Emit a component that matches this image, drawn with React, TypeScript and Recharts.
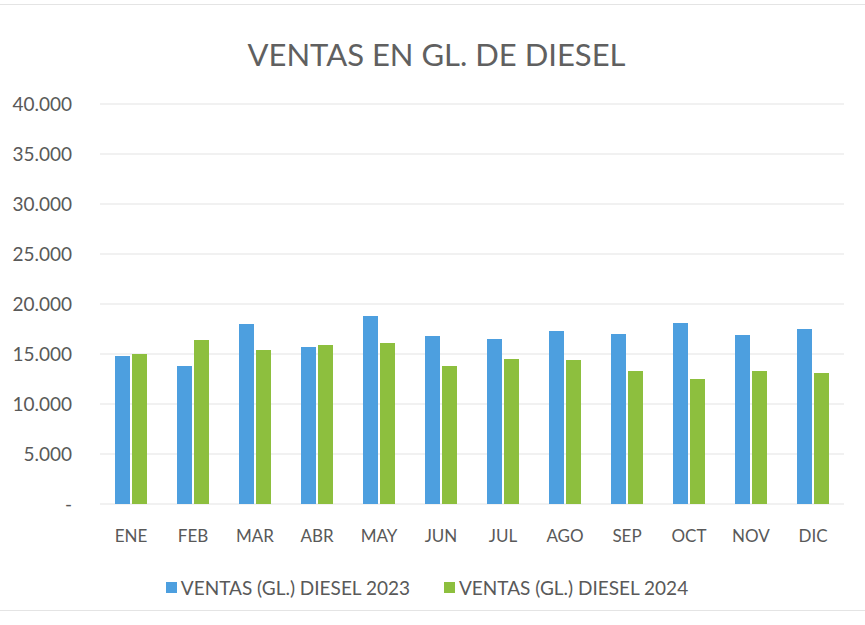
import React from "react";
import { BarChart, Bar, XAxis, YAxis, CartesianGrid, Legend } from "recharts";

const months = ["ENE", "FEB", "MAR", "ABR", "MAY", "JUN", "JUL", "AGO", "SEP", "OCT", "NOV", "DIC"];
const ventas2023 = [14800, 13800, 18000, 15700, 18800, 16800, 16500, 17300, 17000, 18100, 16900, 17500];
const ventas2024 = [15000, 16400, 15400, 15900, 16100, 13800, 14500, 14400, 13300, 12500, 13300, 13100];
const yTicks = [0, 5000, 10000, 15000, 20000, 25000, 30000, 35000, 40000];

const data = months.map((m, i) => ({ month: m, v2023: ventas2023[i], v2024: ventas2024[i] }));

const FONT = "Lato, 'Open Sans', sans-serif";
const GRAY = "#595959";

function fmt(v: number) {
  if (v === 0) return "-";
  return v.toLocaleString("de-DE");
}

function LegendContent({ payload }: { payload?: Array<{ value: string; color: string }> }) {
  return (
    <div style={{ display: "flex", justifyContent: "center", gap: 34, fontFamily: FONT, fontSize: 19, color: GRAY, marginLeft: 10 }}>
      {(payload ?? []).map((p, i) => (
        <div key={i} style={{ display: "flex", alignItems: "center" }}>
          <span style={{ display: "inline-block", width: 11, height: 11, background: p.color, marginRight: 4 }} />
          {p.value}
        </div>
      ))}
    </div>
  );
}

export default function App() {
  return (
    <div style={{ position: "absolute", left: 0, top: 0, width: 865, height: 625, background: "#fff", fontFamily: FONT }}>
      <div style={{ position: "absolute", left: 0, right: 0, top: 4, borderTop: "1px solid #e4e4e4" }} />
      <div style={{ position: "absolute", left: 0, right: 0, top: 610, borderTop: "1px solid #e4e4e4" }} />
      <div style={{ position: "absolute", top: 35, left: 4, width: 865, textAlign: "center", fontSize: 31, color: "#606060" }}>
        VENTAS EN GL. DE DIESEL
      </div>
      <BarChart width={865} height={625} data={data} margin={{ top: 104, right: 21, left: 0, bottom: 19 }} barGap={2} barSize={15}>
        <CartesianGrid vertical={false} stroke="#e3e3e3" />
        <XAxis
          dataKey="month"
          axisLine={false}
          tickLine={false}
          tick={{ fontSize: 17, fill: GRAY, fontFamily: FONT }}
          tickMargin={20}
          height={72}
          interval={0}
        />
        <YAxis
          width={100}
          domain={[0, 40000]}
          ticks={yTicks}
          tickFormatter={fmt}
          axisLine={false}
          tickLine={false}
          tick={{ fontSize: 19, fill: GRAY, fontFamily: FONT }}
          tickMargin={22}
        />
        <Legend verticalAlign="bottom" height={30} content={<LegendContent />} />
        <Bar dataKey="v2023" name="VENTAS (GL.) DIESEL 2023" fill="#4d9fdf" isAnimationActive={false} />
        <Bar dataKey="v2024" name="VENTAS (GL.) DIESEL 2024" fill="#8dbf3e" isAnimationActive={false} />
      </BarChart>
    </div>
  );
}
